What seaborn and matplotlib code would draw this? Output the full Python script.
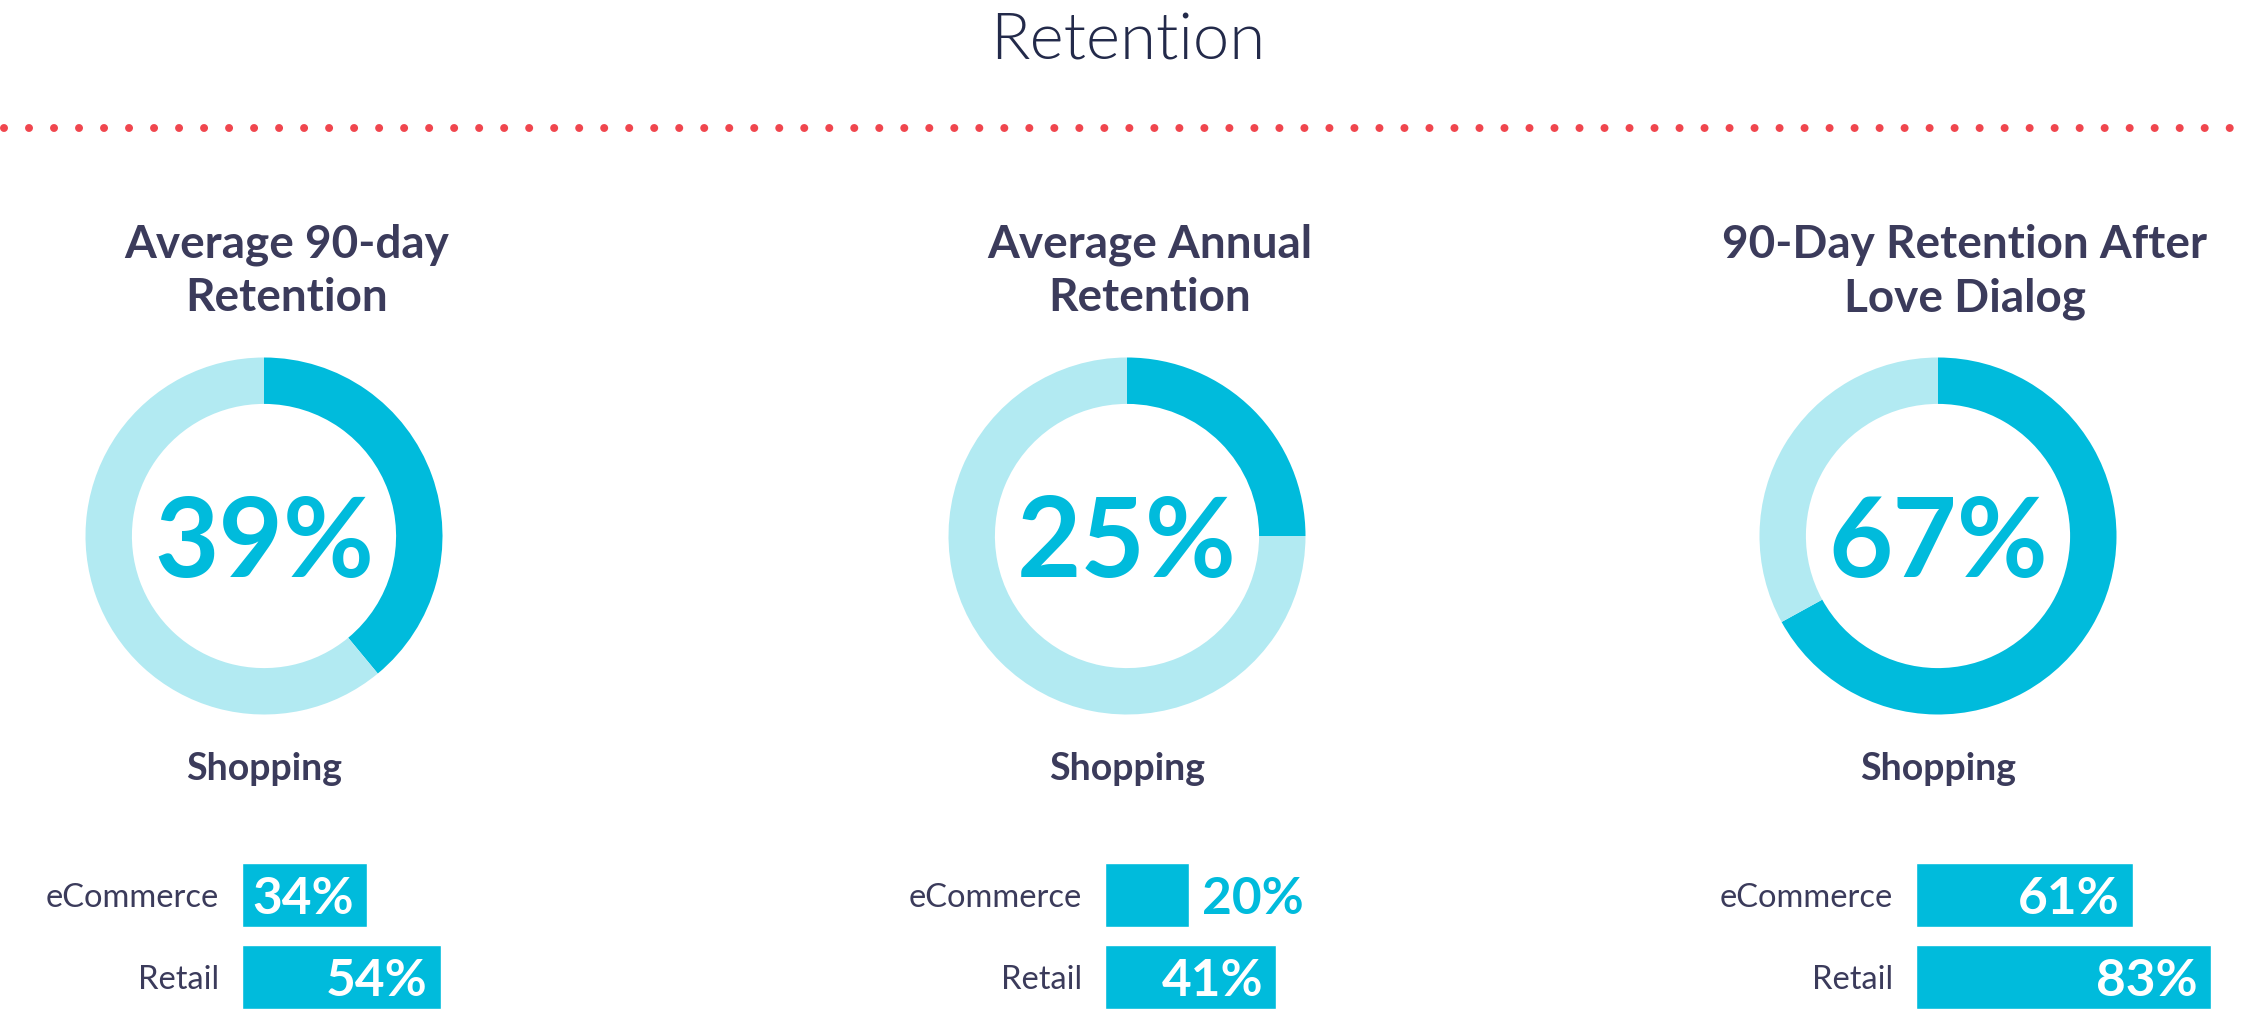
import matplotlib
matplotlib.use("Agg")
import matplotlib.pyplot as plt
from matplotlib.lines import Line2D
import pandas as pd
import seaborn as sns

# Data
panel_titles = ["Average 90-day\nRetention", "Average Annual\nRetention", "90-Day Retention After\nLove Dialog"]
donut_values = [39, 25, 67]
donut_label = "Shopping"
segments = ["eCommerce", "Retail"]
ecommerce_values = [34, 20, 61]
retail_values = [54, 41, 83]

# Style
sns.set_style("white")
plt.rcParams["font.family"] = ["Lato", "DejaVu Sans"]

DARK = "#00BBDC"
LIGHT = "#B2EAF2"
NAVY = "#3B3B5B"
TITLE_NAVY = "#232A4A"
RED = "#F0464E"

W, H = 2253, 1010
fig = plt.figure(figsize=(W / 100, H / 100), dpi=100)
fig.patch.set_facecolor("white")


def px_to_fig(x, y):
    return x / W, 1 - y / H


# Main title
tx, ty = px_to_fig(1128, 59)
fig.text(tx, ty, "Retention", ha="center", va="baseline", fontsize=47,
         fontweight=300, color=TITLE_NAVY)

# Dotted separator
dy = px_to_fig(0, 128)[1]
fig.add_artist(Line2D([4 / W, 2249 / W], [dy, dy], color=RED, linewidth=5.76,
                      linestyle=(0, (0.001, 25 / 8)), dash_capstyle="round"))

# Layout per panel (pixel positions)
centers = [264, 1127, 1938]
title_centers = [287, 1150, 1965]
px_per_pct = [3.68, 4.18, 3.55]
cy = 536
r = 178.5

for i in range(3):
    cx = centers[i]

    # Panel title, line by line
    for j, line in enumerate(panel_titles[i].split("\n")):
        lx, ly = px_to_fig(title_centers[i], 258 + j * 53)
        fig.text(lx, ly, line, ha="center", va="baseline", fontsize=33,
                 fontweight="bold", color=NAVY)

    # Donut
    ax = fig.add_axes([(cx - r) / W, (H - cy - r) / H, 2 * r / W, 2 * r / H])
    v = donut_values[i]
    ax.pie([v, 100 - v], colors=[DARK, LIGHT], startangle=90, counterclock=False,
           radius=1, wedgeprops=dict(width=0.26, linewidth=0))
    ax.set_xlim(-1, 1)
    ax.set_ylim(-1, 1)
    ax.set_aspect("equal")
    ax.axis("off")
    ax.text(0, 0, f"{v}%", ha="center", va="center_baseline", fontsize=80,
            fontweight="bold", color=DARK)

    sx, sy = px_to_fig(cx, 780)
    fig.text(sx, sy, donut_label, ha="center", va="baseline", fontsize=27,
             fontweight="bold", color=NAVY)

    # Bars
    df = pd.DataFrame({"segment": segments,
                       "value": [ecommerce_values[i], retail_values[i]]})
    bar_x0 = cx - 22
    ax_w = 100 * px_per_pct[i]
    bax = fig.add_axes([bar_x0 / W, 0, ax_w / W, 156 / H])
    sns.barplot(data=df, x="value", y="segment", orient="h", color=DARK,
                saturation=1, width=0.78, ax=bax)
    bax.set_xlim(0, 100)
    bax.set_ylim(1.402, -0.5)
    bax.set_xlabel("")
    bax.set_ylabel("")
    bax.set_xticks([])
    bax.tick_params(axis="y", length=0, pad=16.5, labelsize=23.5, labelcolor=NAVY)
    for s in bax.spines.values():
        s.set_visible(False)
    bax.patch.set_alpha(0)

    for k, val in enumerate(df["value"]):
        if val * px_per_pct[i] < 110:
            bax.annotate(f"{val}%", xy=(val, k), xytext=(9.4, 0),
                         textcoords="offset points", ha="left", va="center_baseline",
                         fontsize=37, fontweight="bold", color=DARK)
        else:
            bax.annotate(f"{val}%", xy=(val, k), xytext=(-9.4, 0),
                         textcoords="offset points", ha="right", va="center_baseline",
                         fontsize=37, fontweight="bold", color="white")

fig.savefig("out.png", dpi=100, facecolor="white")
